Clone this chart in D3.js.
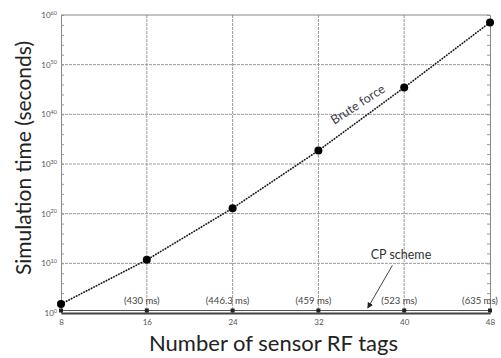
<!DOCTYPE html>
<html>
<head>
<meta charset="utf-8">
<script src="https://cdn.jsdelivr.net/npm/d3@7"></script>
<style>
  body { margin: 0; background: #fff; }
  svg { display: block; font-family: Lato, "Open Sans", sans-serif; }
</style>
</head>
<body>
<div class="chart"></div>
<script>
// values
const tagCounts = [8, 16, 24, 32, 40, 48];
const bruteForceSec = [63, 5.0e10, 1.26e21, 5.0e32, 2.5e45, 3.2e58];
const cpSchemeMs = [415, 430, 446.3, 459, 523, 635];
const cpShowLabel = [false, true, true, true, true, true];
const yDecades = [0, 10, 20, 30, 40, 50, 60];

const width = 501, height = 358;
const margin = { top: 15, right: 11, bottom: 45, left: 61 };
const pow10 = (e) => Math.pow(10, e);

const svg = d3.select(".chart").append("svg")
  .attr("width", width)
  .attr("height", height);

const x = d3.scaleLinear()
  .domain([8, 48])
  .range([margin.left, width - margin.right]);

const y = d3.scaleLog()
  .domain([1, 1e60])
  .range([height - margin.bottom, margin.top])
  .clamp(true);

const yMinor = d3.range(0, 61, 2).map(pow10);

// grid lines
svg.append("g")
  .selectAll("line")
  .data(tagCounts.slice(1, -1))
  .join("line")
  .attr("x1", (d) => x(d)).attr("x2", (d) => x(d))
  .attr("y1", y(1e60)).attr("y2", y(1))
  .attr("stroke", "#9a9a9a")
  .attr("stroke-dasharray", "3,1")
  .attr("stroke-width", 1);

svg.append("g")
  .selectAll("line")
  .data(yDecades.slice(1, -1))
  .join("line")
  .attr("x1", x(8)).attr("x2", x(48))
  .attr("y1", (d) => y(pow10(d))).attr("y2", (d) => y(pow10(d)))
  .attr("stroke", "#9a9a9a")
  .attr("stroke-dasharray", "3,1")
  .attr("stroke-width", 1);

// left / right axes with inward minor ticks
const leftAxis = svg.append("g")
  .attr("transform", `translate(${margin.left},0)`)
  .call(d3.axisLeft(y).tickValues(yMinor).tickSize(-3).tickFormat(""));
const rightAxis = svg.append("g")
  .attr("transform", `translate(${width - margin.right},0)`)
  .call(d3.axisRight(y).tickValues(yMinor).tickSize(-3).tickFormat(""));
[leftAxis, rightAxis].forEach((g) => {
  g.select(".domain").attr("stroke", "#888");
  g.selectAll(".tick line").attr("stroke", "#999");
});

// top border
svg.append("line")
  .attr("x1", x(8)).attr("x2", x(48))
  .attr("y1", y(1e60)).attr("y2", y(1e60))
  .attr("stroke", "#888");

// y tick labels 10^n
const yLab = svg.append("g")
  .selectAll("text")
  .data(yDecades)
  .join("text")
  .attr("x", margin.left - 4)
  .attr("y", (d) => y(pow10(d)) + 3)
  .attr("text-anchor", "end")
  .attr("fill", "#555")
  .attr("font-size", 8);
yLab.append("tspan").text("10");
yLab.append("tspan")
  .attr("dy", -3.5)
  .attr("font-size", 5.5)
  .text((d) => d);

// bottom axis
const xAxis = svg.append("g")
  .attr("transform", `translate(0,${y(1)})`)
  .call(d3.axisBottom(x).tickValues(tagCounts).tickSize(0).tickPadding(6));
xAxis.select(".domain").attr("stroke", "#444").attr("stroke-width", 2);
xAxis.selectAll(".tick text")
  .attr("fill", "#555")
  .attr("font-size", 8)
  .attr("font-family", "Lato, sans-serif");

// CP scheme line (sub-second values sit on the floor of the log axis)
const cpData = tagCounts.map((t, i) => ({ t, v: cpSchemeMs[i] / 1000, show: cpShowLabel[i], ms: cpSchemeMs[i] }));
const cpG = svg.append("g").attr("transform", "translate(0,-2.5)");
cpG.append("path")
  .datum(cpData)
  .attr("fill", "none")
  .attr("stroke", "#555")
  .attr("stroke-width", 1.2)
  .attr("d", d3.line().x((d) => x(d.t)).y((d) => y(d.v)));
cpG.selectAll("rect")
  .data(cpData)
  .join("rect")
  .attr("x", (d) => x(d.t) - 2)
  .attr("y", (d) => y(d.v) - 2)
  .attr("width", 4)
  .attr("height", 4)
  .attr("fill", "#222");

svg.append("g")
  .selectAll("text")
  .data(cpData.filter((d) => d.show))
  .join("text")
  .attr("x", (d) => Math.min(x(d.t) - 5, width - 21))
  .attr("y", y(1) - 9)
  .attr("text-anchor", "middle")
  .attr("fill", "#444")
  .attr("font-size", 9.5)
  .text((d) => "(" + d.ms + " ms)");

// brute force line
const bfData = tagCounts.map((t, i) => ({ t, v: bruteForceSec[i] }));
const bfLine = d3.line().x((d) => x(d.t)).y((d) => y(d.v));
svg.append("path")
  .datum(bfData)
  .attr("fill", "none")
  .attr("stroke", "#aaa")
  .attr("stroke-width", 1)
  .attr("d", bfLine);
svg.append("path")
  .datum(bfData)
  .attr("fill", "none")
  .attr("stroke", "#111")
  .attr("stroke-width", 1.6)
  .attr("stroke-dasharray", "1.5,1.3")
  .attr("d", bfLine);
svg.append("g")
  .selectAll("circle")
  .data(bfData)
  .join("circle")
  .attr("cx", (d) => x(d.t))
  .attr("cy", (d) => y(d.v))
  .attr("r", 4)
  .attr("fill", "#000");

// annotations
svg.append("text")
  .attr("transform", `translate(${x(35.9)},${y(pow10(41.3))}) rotate(-33)`)
  .attr("text-anchor", "middle")
  .attr("fill", "#3c3c48")
  .attr("font-size", 12.5)
  .text("Brute force");

svg.append("text")
  .attr("x", x(39.7))
  .attr("y", y(pow10(10.8)))
  .attr("text-anchor", "middle")
  .attr("fill", "#333")
  .attr("font-size", 12.5)
  .text("CP scheme");

svg.append("defs").append("marker")
  .attr("id", "arrow")
  .attr("viewBox", "0 0 10 10")
  .attr("refX", 9).attr("refY", 5)
  .attr("markerWidth", 6).attr("markerHeight", 6)
  .attr("orient", "auto")
  .append("path")
  .attr("d", "M0,0L10,5L0,10z")
  .attr("fill", "#222");

svg.append("line")
  .attr("x1", x(38.9)).attr("y1", y(pow10(9.6)))
  .attr("x2", x(36.6)).attr("y2", y(pow10(1)))
  .attr("stroke", "#444")
  .attr("stroke-width", 1)
  .attr("marker-end", "url(#arrow)");

// axis titles
svg.append("text")
  .attr("x", (x(8) + x(48)) / 2 - 2)
  .attr("y", height - 7)
  .attr("text-anchor", "middle")
  .attr("fill", "#222")
  .attr("font-size", 22)
  .text("Number of sensor RF tags");

svg.append("text")
  .attr("transform", `translate(31,${(y(1) + y(1e60)) / 2 - 6}) rotate(-90)`)
  .attr("text-anchor", "middle")
  .attr("fill", "#222")
  .attr("font-size", 21)
  .text("Simulation time (seconds)");
</script>
</body>
</html>
